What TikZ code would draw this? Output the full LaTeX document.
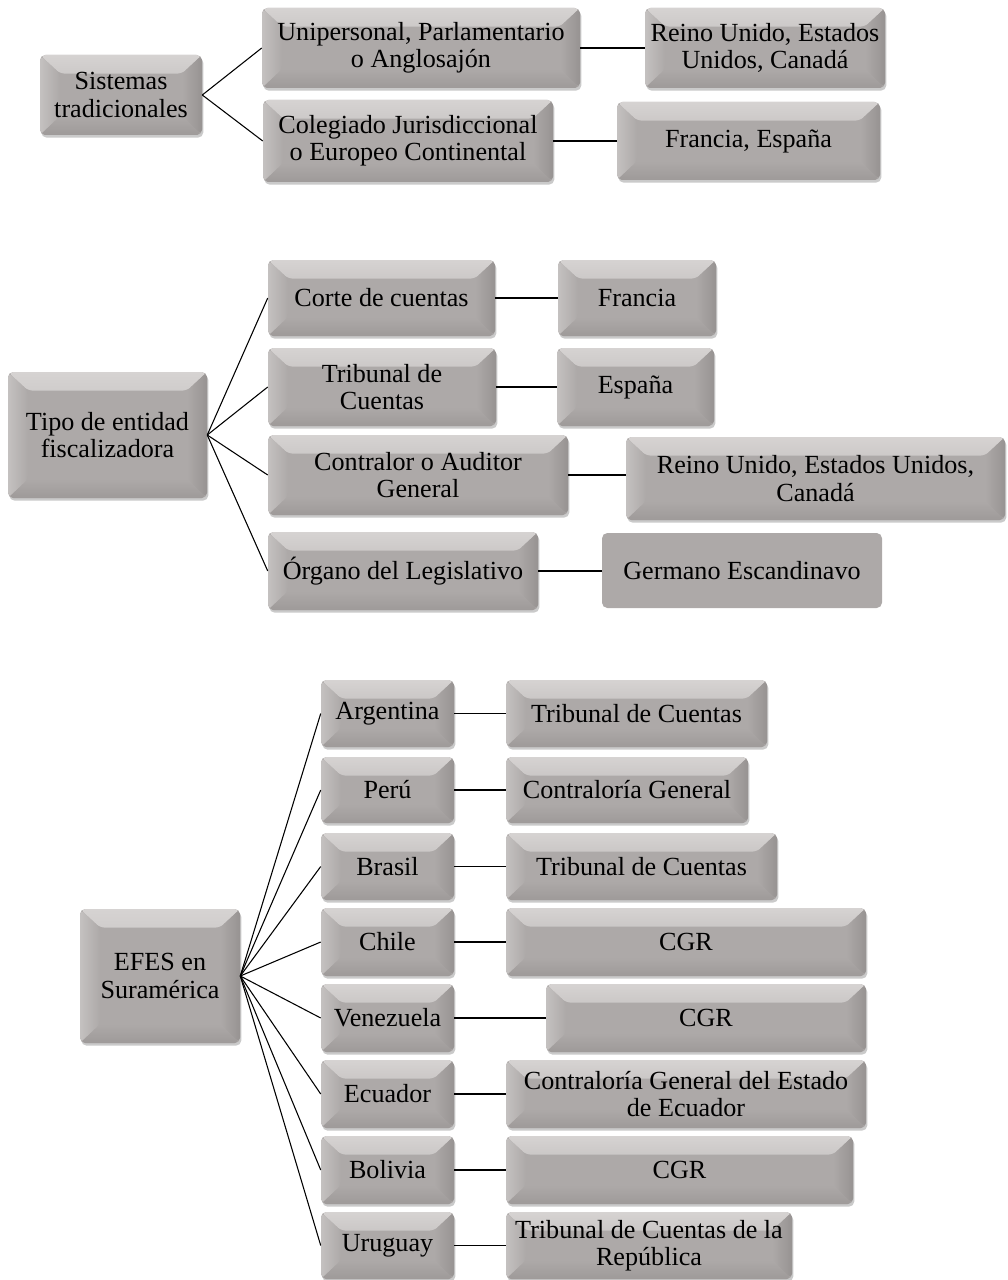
\documentclass[tikz,border=0pt]{standalone}
\usepackage{fontspec}
\setmainfont{Liberation Serif}
\usetikzlibrary{shadows,calc}
\definecolor{bcen}{HTML}{ADA9A8}
\definecolor{btop}{HTML}{D6D3D2}
\definecolor{bleft}{HTML}{C4C1C0}
\definecolor{bright}{HTML}{979392}
\definecolor{bbot}{HTML}{9E9A99}
\tikzset{
  bev/.style={rounded corners=4pt, inner sep=0pt, align=center, fill=bcen,
    font=\fontsize{19.6}{20.5}\selectfont,
    drop shadow={shadow xshift=1pt, shadow yshift=-2pt, opacity=0.35, fill=black!60},
    path picture={
      \shade[top color=btop, bottom color=bcen] (path picture bounding box.north west) -- (path picture bounding box.north east)
        -- ([xshift=-15pt,yshift=-14pt]path picture bounding box.north east)
        -- ([xshift=15pt,yshift=-14pt]path picture bounding box.north west) -- cycle;
      \shade[left color=bleft, right color=bcen] (path picture bounding box.north west) -- ([xshift=15pt,yshift=-14pt]path picture bounding box.north west)
        -- ([xshift=15pt,yshift=14pt]path picture bounding box.south west)
        -- (path picture bounding box.south west) -- cycle;
      \shade[left color=bcen, right color=bright] (path picture bounding box.north east) -- ([xshift=-15pt,yshift=-14pt]path picture bounding box.north east)
        -- ([xshift=-15pt,yshift=14pt]path picture bounding box.south east)
        -- (path picture bounding box.south east) -- cycle;
      \shade[top color=bcen, bottom color=bbot] (path picture bounding box.south west) -- (path picture bounding box.south east)
        -- ([xshift=-15pt,yshift=14pt]path picture bounding box.south east)
        -- ([xshift=15pt,yshift=14pt]path picture bounding box.south west) -- cycle;
    }},
  flat/.style={rounded corners=4pt, inner sep=0pt, align=center, fill=bcen,
    font=\fontsize{19.6}{20.5}\selectfont},
  conn/.style={draw=black, line width=0.8pt}
}
\newcommand\mybox[7][bev]{\node[#1,minimum width={(#5-#3)*0.75pt},minimum height={(#6-#4)*0.75pt}] (#2) at ({(#3+#5)/2},{(#4+#6)/2}) {#7};}
\newcommand\hconn[2]{\draw[conn] (#1.east) -- (#1.east -| #2.west);}
\begin{document}
\begin{tikzpicture}[x=0.75pt,y=-0.75pt]
\useasboundingbox (0,0) rectangle (1007,1280);
% section 1
\mybox{st}{40}{55}{202}{135}{Sistemas\\tradicionales}
\mybox{uni}{262}{8}{580}{88}{Unipersonal, Parlamentario\\o Anglosajón}
\mybox{col}{263}{100}{553}{182}{Colegiado Jurisdiccional\\o Europeo Continental}
\mybox{ru1}{645}{8}{885}{88}{Reino Unido, Estados\\Unidos, Canadá}
\mybox{fe}{617}{102}{880}{180}{Francia, España}
\draw[conn] (st.east) -- (uni.west);
\draw[conn] (st.east) -- (col.west);
\hconn{uni}{ru1}
\hconn{col}{fe}
% section 2
\mybox{tipo}{8}{372}{207}{498}{Tipo de entidad\\fiscalizadora}
\mybox{corte}{268}{260}{495}{336}{Corte de cuentas}
\mybox{fra}{558}{260}{716}{336}{Francia}
\mybox{trib}{268}{348}{496}{426}{Tribunal de\\Cuentas}
\mybox{esp}{557}{348}{714}{426}{España}
\mybox{contr}{268}{435}{568}{515}{Contralor o Auditor\\General}
\mybox{ru2}{626}{437}{1005}{520}{Reino Unido, Estados Unidos,\\Canadá}
\mybox{org}{268}{532}{538}{610}{Órgano del Legislativo}
\mybox[flat]{ger}{602}{533}{882}{608}{Germano Escandinavo}
\foreach \n in {corte,trib,contr,org} \draw[conn] (tipo.east) -- (\n.west);
\hconn{corte}{fra}
\hconn{trib}{esp}
\hconn{contr}{ru2}
\hconn{org}{ger}
% section 3
\mybox{efes}{80}{909}{240}{1043}{EFES en\\Suramérica}
\mybox{arg}{321}{680}{454}{747}{Argentina}
\mybox{per}{321}{757}{454}{823}{Perú}
\mybox{bra}{321}{833}{454}{900}{Brasil}
\mybox{chi}{321}{908}{454}{976}{Chile}
\mybox{ven}{321}{984}{454}{1052}{Venezuela}
\mybox{ecu}{321}{1060}{454}{1128}{Ecuador}
\mybox{bol}{321}{1136}{454}{1204}{Bolivia}
\mybox{uru}{321}{1212}{454}{1279}{Uruguay}
\mybox{targ}{506}{680}{767}{747}{Tribunal de Cuentas}
\mybox{cper}{506}{757}{748}{823}{Contraloría General}
\mybox{tbra}{506}{833}{777}{900}{Tribunal de Cuentas}
\mybox{cchi}{506}{908}{866}{976}{CGR}
\mybox{cven}{546}{984}{866}{1052}{CGR}
\mybox{cecu}{506}{1060}{866}{1128}{Contraloría General del Estado\\de Ecuador}
\mybox{cbol}{506}{1136}{853}{1204}{CGR}
\mybox{turu}{506}{1212}{792}{1279}{Tribunal de Cuentas de la\\República}
\foreach \a/\b in {arg/targ,per/cper,bra/tbra,chi/cchi,ven/cven,ecu/cecu,bol/cbol,uru/turu} {
  \draw[conn] (efes.east) -- (\a.west);
  \hconn{\a}{\b}
}
\end{tikzpicture}
\end{document}
